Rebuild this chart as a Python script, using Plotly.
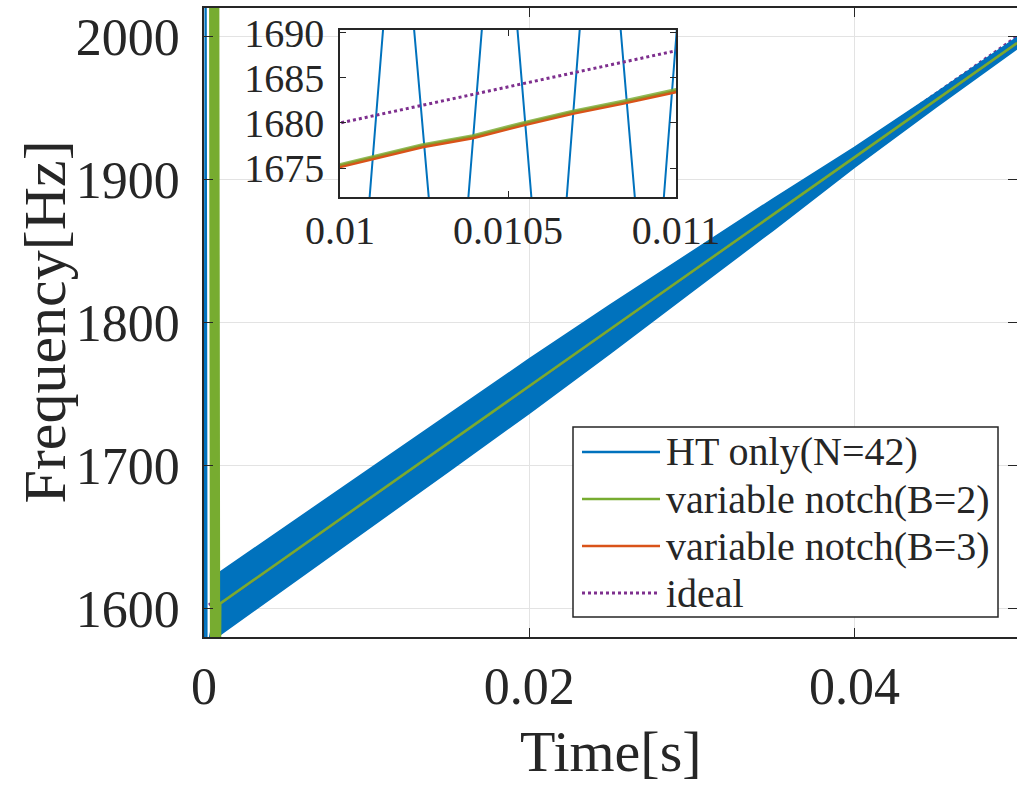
import plotly.graph_objects as go

# ---------------- data ----------------
# ideal instantaneous frequency
ideal_t = [0.0, 0.05]
ideal_f = [1600.0, 2000.0]

# HT only (N=42): start-up transient
ht_start_t = [0.00003, 0.00010, 0.00016, 0.00080]
ht_start_f = [1570.0, 2100.0, 1570.0, 1602.0]
# HT only (N=42): ripple band (upper / lower envelope)
ht_band_t = [0.0008, 0.005, 0.010, 0.015, 0.020, 0.025, 0.030, 0.035, 0.040, 0.045, 0.050]
ht_upper = [1624.0, 1657.0, 1696.5, 1735.5, 1774.5, 1812.5, 1849.5, 1886.5, 1922.5, 1960.5, 1999.5]
ht_lower = [1580.0, 1614.0, 1654.5, 1695.5, 1736.5, 1778.5, 1821.5, 1864.5, 1908.5, 1950.5, 1991.5]
# HT only (N=42): individual ripple strokes seen in the zoomed inset
ht_zoom_t = [0.010080, 0.010136, 0.010212, 0.010273, 0.010374, 0.010430, 0.010520, 0.010578,
             0.010667, 0.010721, 0.010827, 0.010886, 0.010956, 0.011010]
ht_zoom_f = [1668.0, 1694.0, 1694.0, 1668.0, 1668.0, 1694.0, 1694.0, 1668.0,
             1668.0, 1694.0, 1694.0, 1668.0, 1668.0, 1694.0]

# variable notch (B=2)
vn2_t = [0.00038, 0.00044, 0.00050, 0.00056, 0.00062, 0.00068, 0.00074, 0.00080, 0.00086, 0.00092,
         0.00098, 0.0010, 0.0050, 0.0100, 0.010245, 0.010395, 0.010543, 0.010692, 0.010840, 0.0110,
         0.0150, 0.0200, 0.0300, 0.0400, 0.0500]
vn2_f = [2100.0, 1570.0, 2100.0, 1570.0, 2100.0, 1570.0, 2100.0, 1570.0, 2100.0, 1570.0,
         1570.0, 1603.5, 1635.5, 1675.4, 1677.6, 1678.6, 1680.0, 1681.3, 1682.4, 1683.7,
         1715.5, 1755.5, 1835.5, 1915.5, 1995.5]

# variable notch (B=3)
vn3_t = [0.0010, 0.0050, 0.0100, 0.010245, 0.010395, 0.010543, 0.010692, 0.010840, 0.0110,
         0.0150, 0.0200, 0.0300, 0.0400, 0.0500]
vn3_f = [1603.3, 1635.3, 1675.2, 1677.4, 1678.4, 1679.8, 1681.1, 1682.2, 1683.5,
         1715.3, 1755.3, 1835.3, 1915.4, 1995.4]

x_ticks = [0.0, 0.02, 0.04]
x_ticklabels = ["0", "0.02", "0.04"]
y_ticks = [1600, 1700, 1800, 1900, 2000]
inset_x_ticks = [0.01, 0.0105, 0.011]
inset_x_ticklabels = ["0.01", "0.0105", "0.011"]
inset_y_ticks = [1675, 1680, 1685, 1690]

legend_labels = ["HT only(N=42)", "variable notch(B=2)", "variable notch(B=3)", "ideal"]

# ---------------- style ----------------
BLUE = "#0072BD"
GREEN = "#77AC30"
ORANGE = "#D95319"
PURPLE = "#7E2F8E"
AX = "#262626"
FONT = "Liberation Serif, Times New Roman, serif"

W, H = 1017, 787
ML, MR, MT, MB = 204, 0, 8, 150
PW = W - ML - MR
PH = H - MT - MB


def px(x):
    return (x - ML) / PW


def py(y):
    return (H - MB - y) / PH


fig = go.Figure()

# ---- main axes ----
fig.add_trace(go.Scatter(x=ideal_t, y=ideal_f, mode="lines",
                         line=dict(color=PURPLE, width=3, dash="dot"), showlegend=False,
                         xaxis="x", yaxis="y"))
fig.add_trace(go.Scatter(x=ht_band_t, y=ht_lower, mode="lines",
                         line=dict(color=BLUE, width=1.5), showlegend=False,
                         xaxis="x", yaxis="y", hoverinfo="skip"))
fig.add_trace(go.Scatter(x=ht_band_t, y=ht_upper, mode="lines", fill="tonexty",
                         fillcolor=BLUE, line=dict(color=BLUE, width=1.5),
                         showlegend=False, xaxis="x", yaxis="y", hoverinfo="skip"))
fig.add_trace(go.Scatter(x=ht_start_t, y=ht_start_f, mode="lines",
                         line=dict(color=BLUE, width=2), showlegend=False,
                         xaxis="x", yaxis="y"))
fig.add_trace(go.Scatter(x=vn3_t, y=vn3_f, mode="lines",
                         line=dict(color=ORANGE, width=2), showlegend=False,
                         xaxis="x", yaxis="y"))
fig.add_trace(go.Scatter(x=vn2_t, y=vn2_f, mode="lines",
                         line=dict(color=GREEN, width=2.5), showlegend=False,
                         xaxis="x", yaxis="y"))

# ---- inset axes ----
fig.add_trace(go.Scatter(x=ht_zoom_t, y=ht_zoom_f, mode="lines",
                         line=dict(color=BLUE, width=2), showlegend=False,
                         xaxis="x2", yaxis="y2"))
fig.add_trace(go.Scatter(x=vn3_t, y=vn3_f, mode="lines",
                         line=dict(color=ORANGE, width=4), showlegend=False,
                         xaxis="x2", yaxis="y2"))
fig.add_trace(go.Scatter(x=vn2_t, y=vn2_f, mode="lines",
                         line=dict(color=GREEN, width=3), opacity=0.8, showlegend=False,
                         xaxis="x2", yaxis="y2"))
fig.add_trace(go.Scatter(x=ideal_t, y=ideal_f, mode="lines",
                         line=dict(color=PURPLE, width=3, dash="dot"), showlegend=False,
                         xaxis="x2", yaxis="y2"))

common_axis = dict(showline=True, linecolor=AX, linewidth=1.5, mirror="ticks",
                   ticks="inside", tickcolor=AX, zeroline=False, automargin=False)

inset_x0, inset_x1 = px(340), px(676)
inset_y0, inset_y1 = py(197), py(30)

fig.update_layout(
    template="none",
    width=W, height=H,
    margin=dict(l=ML, r=MR, t=MT, b=MB, pad=0, autoexpand=False),
    paper_bgcolor="white", plot_bgcolor="white",
    showlegend=False,
    font=dict(family=FONT, color=AX),
    xaxis=dict(domain=[0, 1], range=[0, 0.05], tickvals=x_ticks, ticktext=x_ticklabels,
               ticklen=9, tickwidth=1.2, showgrid=True, gridcolor="#e3e3e3", gridwidth=1,
               tickfont=dict(size=52, family=FONT, color=AX), ticklabelstandoff=3,
               **common_axis),
    yaxis=dict(domain=[0, 1], range=[1580, 2020], tickvals=y_ticks,
               ticklen=9, tickwidth=1.2, showgrid=True, gridcolor="#e3e3e3", gridwidth=1,
               tickfont=dict(size=52, family=FONT, color=AX), ticklabelstandoff=12,
               **common_axis),
    xaxis2=dict(domain=[inset_x0, inset_x1], anchor="y2", range=[0.01, 0.011],
                tickvals=inset_x_ticks, ticktext=inset_x_ticklabels, ticklen=6, tickwidth=1.2,
                showgrid=False, tickfont=dict(size=40, family=FONT, color=AX),
                ticklabelstandoff=-3, **common_axis),
    yaxis2=dict(domain=[inset_y0, inset_y1], anchor="x2", range=[1671.8, 1690.3],
                tickvals=inset_y_ticks, ticklen=6, tickwidth=1.2, showgrid=False,
                tickfont=dict(size=40, family=FONT, color=AX), ticklabelstandoff=6,
                **common_axis),
)

shapes = []
# white background of the inset
shapes.append(dict(type="rect", xref="x2 domain", yref="y2 domain", x0=0, x1=1, y0=0, y1=1,
                   fillcolor="white", line=dict(width=0), layer="below"))

# custom legend
lg_left, lg_right, lg_top, lg_bottom = 573, 998, 427, 617
shapes.append(dict(type="rect", xref="paper", yref="paper",
                   x0=px(lg_left), x1=px(lg_right), y0=py(lg_bottom), y1=py(lg_top),
                   fillcolor="white", line=dict(color=AX, width=1.5), layer="above"))
row_y = [452, 499, 546, 593]
row_styles = [dict(color=BLUE, width=2.5), dict(color=GREEN, width=2.5),
              dict(color=ORANGE, width=2.5), dict(color=PURPLE, width=3, dash="dot")]
annotations = []
for label, ry, st in zip(legend_labels, row_y, row_styles):
    shapes.append(dict(type="line", xref="paper", yref="paper",
                       x0=px(582), x1=px(660), y0=py(ry), y1=py(ry), line=st, layer="above"))
    annotations.append(dict(text=label, xref="paper", yref="paper", x=px(664), y=py(ry),
                            xanchor="left", yanchor="middle", showarrow=False,
                            font=dict(size=40, family=FONT, color=AX)))

# axis titles
annotations.append(dict(text="Frequency[Hz]", xref="paper", yref="paper", x=px(44), y=0.5,
                        xanchor="center", yanchor="middle", textangle=-90, showarrow=False,
                        font=dict(size=60, family=FONT, color=AX)))
annotations.append(dict(text="Time[s]", xref="paper", yref="paper", x=0.5, y=py(751),
                        xanchor="center", yanchor="middle", showarrow=False,
                        font=dict(size=58, family=FONT, color=AX)))

fig.update_layout(shapes=shapes, annotations=annotations)

fig.write_html("out.html")
